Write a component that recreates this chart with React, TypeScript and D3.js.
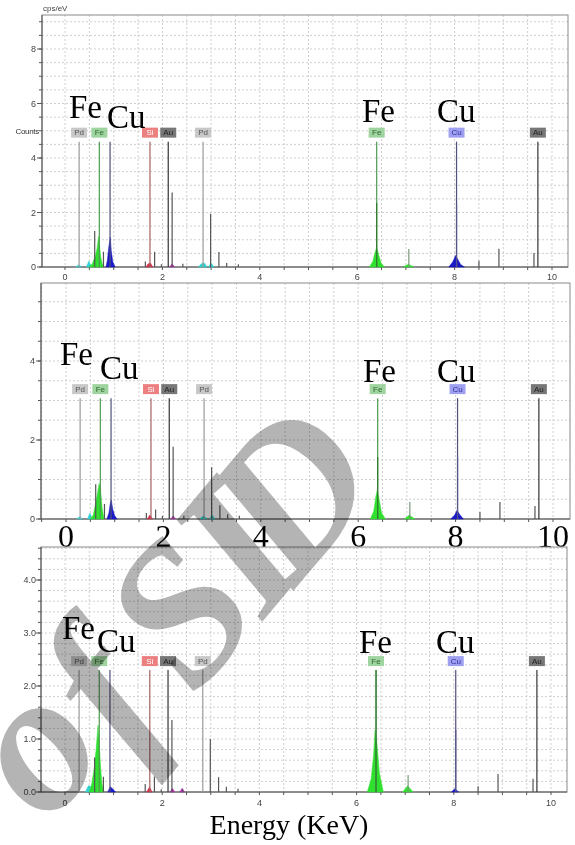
import * as d3 from 'd3'

// element marker lines, the same in the three spectra
const markerEls = ['Pd', 'Fe', 'Cu', 'Si', 'Au', 'Pd', 'Fe', 'Cu', 'Au']
const markerKeV = [0.29, 0.705, 0.925, 1.745, 2.12, 2.835, 6.4, 8.04, 9.71]
const markerBoxed = [true, true, false, true, true, true, true, true, true]
const markerTops = [4.6, 3.06, 2.3]

// thin spectrum spikes (keV) and their heights (cps/eV) per spectrum
const spikeKeV = [0.61, 0.79, 1.65, 1.84, 1.98, 2.2, 2.42, 2.99, 3.16, 3.32, 3.56, 6.4, 7.06, 8.04, 8.5, 8.91, 9.63]
const spikesA = [1.32, 0.56, 0.2, 0.56, 0.1, 2.73, 0.12, 1.95, 0.55, 0.15, 0.1, 2.35, 0.66, 2.35, 0.23, 0.67, 0.51]
const spikesB = [0.88, 0.38, 0.15, 0.24, 0.08, 1.83, 0.08, 1.31, 0.35, 0.12, 0.08, 1.57, 0.43, 1.57, 0.18, 0.43, 0.33]
const spikesC = [0.65, 0.29, 0.15, 0.29, 0.05, 1.36, 0.05, 1.0, 0.28, 0.1, 0.06, 2.3, 0.32, 1.17, 0.11, 0.34, 0.25]

// filled peaks: [element, [keV, cps/eV] points]
type Peak = [string, number[][]]
const peaksA: Peak[] = [
  ['Pd', [[0.22, 0], [0.28, 0.08], [0.34, 0]]],
  ['Pd', [[0.44, 0], [0.49, 0.22], [0.54, 0]]],
  ['Fe', [[0.5, 0], [0.56, 0.12], [0.6, 0.3], [0.63, 0.45], [0.66, 0.7], [0.69, 1.12], [0.71, 0.8], [0.73, 0.4], [0.76, 0.15], [0.79, 0]]],
  ['Cu', [[0.84, 0], [0.87, 0.25], [0.9, 0.75], [0.93, 1.1], [0.95, 0.6], [0.98, 0.2], [1.03, 0]]],
  ['Si', [[1.66, 0], [1.71, 0.12], [1.76, 0.14], [1.8, 0]]],
  ['Au', [[2.15, 0], [2.2, 0.12], [2.25, 0]]],
  ['Pd', [[2.74, 0], [2.8, 0.12], [2.86, 0.15], [2.92, 0]]],
  ['Pd', [[2.95, 0], [3.0, 0.15], [3.06, 0]]],
  ['Fe', [[6.25, 0], [6.32, 0.2], [6.36, 0.5], [6.4, 0.72], [6.44, 0.45], [6.49, 0.15], [6.56, 0]]],
  ['Fe', [[6.95, 0], [7.05, 0.1], [7.16, 0]]],
  ['Cu', [[7.88, 0], [7.96, 0.18], [8.02, 0.42], [8.06, 0.3], [8.12, 0.1], [8.2, 0]]],
]
const peaksB: Peak[] = [
  ['Pd', [[0.22, 0], [0.28, 0.06], [0.34, 0]]],
  ['Pd', [[0.44, 0], [0.49, 0.15], [0.54, 0]]],
  ['Fe', [[0.5, 0], [0.56, 0.1], [0.6, 0.35], [0.64, 0.6], [0.68, 0.9], [0.71, 0.75], [0.74, 0.3], [0.78, 0]]],
  ['Cu', [[0.84, 0], [0.88, 0.15], [0.91, 0.4], [0.93, 0.48], [0.96, 0.25], [1.0, 0.08], [1.05, 0]]],
  ['Si', [[1.67, 0], [1.72, 0.1], [1.78, 0]]],
  ['Au', [[2.15, 0], [2.2, 0.08], [2.25, 0]]],
  ['Pd', [[2.75, 0], [2.82, 0.08], [2.9, 0]]],
  ['Pd', [[2.95, 0], [3.0, 0.1], [3.06, 0]]],
  ['Fe', [[6.25, 0], [6.32, 0.2], [6.36, 0.55], [6.39, 0.73], [6.43, 0.5], [6.48, 0.15], [6.56, 0]]],
  ['Fe', [[6.95, 0], [7.05, 0.1], [7.16, 0]]],
  ['Cu', [[7.9, 0], [7.98, 0.1], [8.03, 0.22], [8.08, 0.12], [8.16, 0]]],
]
const peaksC: Peak[] = [
  ['Pd', [[0.42, 0], [0.48, 0.12], [0.55, 0.1], [0.58, 0]]],
  ['Fe', [[0.5, 0], [0.55, 0.15], [0.6, 0.45], [0.64, 0.8], [0.68, 1.26], [0.7, 1.0], [0.73, 0.5], [0.76, 0.15], [0.8, 0]]],
  ['Cu', [[0.88, 0], [0.93, 0.1], [0.98, 0.06], [1.04, 0]]],
  ['Si', [[1.68, 0], [1.74, 0.1], [1.79, 0]]],
  ['Au', [[2.16, 0], [2.21, 0.07], [2.26, 0]]],
  ['Au', [[2.36, 0], [2.41, 0.07], [2.46, 0]]],
  ['Fe', [[6.22, 0], [6.3, 0.25], [6.35, 0.7], [6.38, 1.17], [6.42, 0.9], [6.47, 0.35], [6.55, 0]]],
  ['Fe', [[6.95, 0], [7.05, 0.12], [7.16, 0]]],
  ['Cu', [[7.95, 0], [8.02, 0.06], [8.1, 0]]],
]

const xTickVals = [0, 2, 4, 6, 8, 10]
const bigLabels = ['Fe', 'Cu', 'Fe', 'Cu']
const watermark = ['o', 'f', 'S', 'I', 'D']

const peakColor: Record<string, string> = {Fe: '#2fe02f', Cu: '#1a1ac6', Si: '#d0304a', Au: '#b030b0', Pd: '#30d0d0'}
const boxFill: Record<string, string> = {Fe: '#9fd39f', Cu: '#a0a0f0', Si: '#ec8080', Au: '#777', Pd: '#c8c8c8'}
const boxText: Record<string, string> = {Fe: '#2d6a2d', Cu: '#3030a0', Si: '#fff', Au: '#222', Pd: '#555'}
const lineColor: Record<string, string> = {Fe: '#4f9a52', Cu: '#50507a', Si: '#a86060', Au: '#333', Pd: '#9a9a9a'}
const spikeColor = (e: number) => e === 6.4 ? '#2d7a2d' : e === 8.04 ? '#55558a' : e === 7.06 ? '#7a9a7a' : '#555'

// glyph centres of the watermark letters
const wmPos = [[30, 745], [100, 690], [180, 612], [238, 548], [290, 492]]

const panels = [
  {top: 15, left: 42, right: 568, x0: 65, x10: 552, zero: 267, refVal: 8, refPx: 49,
    yTicks: [0, 2, 4, 6, 8], minor: 0.5, grid: 0.5, fmt: (d: number) => String(d), yLabX: 36,
    big: false, xLabY: 280, words: [[69, 118], [107, 128], [362, 122], [437, 122]],
    spikes: spikesA, peaks: peaksA},
  {top: 283, left: 41, right: 570, x0: 66, x10: 553, zero: 519, refVal: 4, refPx: 361,
    yTicks: [0, 2, 4], minor: 0.5, grid: 0.5, fmt: (d: number) => String(d), yLabX: 35,
    big: true, xLabY: 547, words: [[60, 365], [100, 379], [363, 382], [437, 382]],
    spikes: spikesB, peaks: peaksB},
  {top: 547, left: 41, right: 567, x0: 65, x10: 551, zero: 792, refVal: 4, refPx: 580,
    yTicks: [0, 1, 2, 3, 4], minor: 0.2, grid: 0.2, fmt: (d: number) => d.toFixed(1), yLabX: 36,
    big: false, xLabY: 806, words: [[62, 639], [97, 652], [359, 653], [436, 653]],
    spikes: spikesC, peaks: peaksC},
]

function Panel({cfg, markerTop}: {cfg: typeof panels[0], markerTop: number}) {
  const x = d3.scaleLinear().domain([0, 10]).range([cfg.x0, cfg.x10])
  const y = d3.scaleLinear().domain([0, cfg.refVal]).range([cfg.zero, cfg.refPx])
  const eMin = x.invert(cfg.left), eMax = x.invert(cfg.right)
  const vMax = y.invert(cfg.top)
  const vGrid = d3.range(Math.ceil(eMin / 0.5) * 0.5, eMax, 0.5)
  const hGrid = d3.range(1, Math.floor(vMax / cfg.grid + 0.01) + 1).map(i => i * cfg.grid)
  const minorY = d3.range(0, Math.floor(vMax / cfg.minor + 0.01) + 1).map(i => i * cfg.minor)
  const area = d3.area<number[]>().x(d => x(d[0])).y0(y(0)).y1(d => y(d[1]))
  const lineTop = y(markerTop)

  return (
    <g>
      {/* grid */}
      {vGrid.map((e, i) => (
        <line key={'v' + i} x1={x(e)} x2={x(e)} y1={cfg.top} y2={cfg.zero} stroke="#cfcfcf" strokeDasharray="2,2" />
      ))}
      {hGrid.map((v, i) => (
        <line key={'h' + i} x1={cfg.left} x2={cfg.right} y1={y(v)} y2={y(v)} stroke="#cfcfcf" strokeDasharray="2,2" />
      ))}
      {/* frame */}
      <rect x={cfg.left} y={cfg.top} width={cfg.right - cfg.left} height={cfg.zero - cfg.top} fill="none" stroke="#8a8a8a" />
      <line x1={cfg.left} x2={cfg.left} y1={cfg.top} y2={cfg.zero} stroke="#555" />
      <line x1={cfg.left} x2={cfg.right} y1={cfg.zero} y2={cfg.zero} stroke="#555" />
      {/* y ticks */}
      {minorY.map((v, i) => (
        <line key={'my' + i} x1={cfg.left - 3} x2={cfg.left} y1={y(v)} y2={y(v)} stroke="#555" />
      ))}
      {cfg.yTicks.map(v => (
        <g key={'yt' + v}>
          <line x1={cfg.left - 5} x2={cfg.left} y1={y(v)} y2={y(v)} stroke="#555" />
          <text x={cfg.yLabX} y={y(v)} dy="0.35em" textAnchor="end" fontSize={9} fill="#444"
            fontFamily="Liberation Sans, Arial, sans-serif">{cfg.fmt(v)}</text>
        </g>
      ))}
      {/* x ticks */}
      {vGrid.map((e, i) => (
        <line key={'xt' + i} x1={x(e)} x2={x(e)} y1={cfg.zero} y2={cfg.zero + 3} stroke="#555" />
      ))}
      {xTickVals.map(e => cfg.big ? (
        <text key={'xl' + e} x={x(e)} y={cfg.xLabY} textAnchor="middle" fontSize={32} fill="#000"
          fontFamily="Liberation Serif, Times New Roman, serif">{e}</text>
      ) : (
        <text key={'xl' + e} x={x(e)} y={cfg.xLabY} textAnchor="middle" fontSize={9} fill="#444"
          fontFamily="Liberation Sans, Arial, sans-serif">{e}</text>
      ))}
      {/* filled peaks */}
      {cfg.peaks.map((p, i) => (
        <path key={'p' + i} d={area(p[1]) || ''} fill={peakColor[p[0]]} stroke={peakColor[p[0]]} strokeWidth={0.5} />
      ))}
      {/* element markers */}
      {markerKeV.map((e, i) => (
        <g key={'m' + i}>
          <line x1={x(e)} x2={x(e)} y1={lineTop} y2={cfg.zero} stroke={lineColor[markerEls[i]]} strokeWidth={1.2} />
          {markerBoxed[i] && (
            <g>
              <rect x={x(e) - 8} y={lineTop - 14} width={16} height={10} fill={boxFill[markerEls[i]]} />
              <text x={x(e)} y={lineTop - 9} dy="0.35em" textAnchor="middle" fontSize={8} fill={boxText[markerEls[i]]}
                fontFamily="Liberation Sans, Arial, sans-serif">{markerEls[i]}</text>
            </g>
          )}
        </g>
      ))}
      {/* spikes */}
      {spikeKeV.map((e, i) => (
        <line key={'s' + i} x1={x(e)} x2={x(e)} y1={y(cfg.spikes[i])} y2={cfg.zero} stroke={spikeColor(e)} strokeWidth={1.2} />
      ))}
      {/* big element names */}
      {bigLabels.map((t, i) => (
        <text key={'w' + i} x={cfg.words[i][0]} y={cfg.words[i][1]} fontSize={33} fill="#000"
          fontFamily="Liberation Serif, Times New Roman, serif">{t}</text>
      ))}
    </g>
  )
}

export default function App() {
  return (
    <svg width={575} height={845} style={{position: 'absolute', left: 0, top: 0, background: '#fff'}}>
      <rect width={575} height={845} fill="#fff" />
      {panels.map((p, i) => <Panel key={i} cfg={p} markerTop={markerTops[i]} />)}
      <text x={43} y={11} fontSize={8} fill="#444" fontFamily="Liberation Sans, Arial, sans-serif">cps/eV</text>
      <text x={39} y={131} dy="0.35em" textAnchor="end" fontSize={8} fill="#333" letterSpacing={-0.3}
        fontFamily="Liberation Sans, Arial, sans-serif">Counts</text>
      <text x={289} y={834} textAnchor="middle" fontSize={28} fill="#000"
        fontFamily="Liberation Serif, Times New Roman, serif">Energy (KeV)</text>
      {/* watermark */}
      <g fill="#b4b4b4" style={{mixBlendMode: 'multiply'}}>
        {watermark.map((c, i) => (
          <text key={'wm' + i} transform={`translate(${wmPos[i][0]},${wmPos[i][1]}) rotate(-50)`}
            textAnchor="middle" dy="0.33em" fontSize={200} fontStyle="italic" fontWeight="bold"
            fontFamily="Liberation Serif, Times New Roman, serif">{c}</text>
        ))}
      </g>
    </svg>
  )
}
